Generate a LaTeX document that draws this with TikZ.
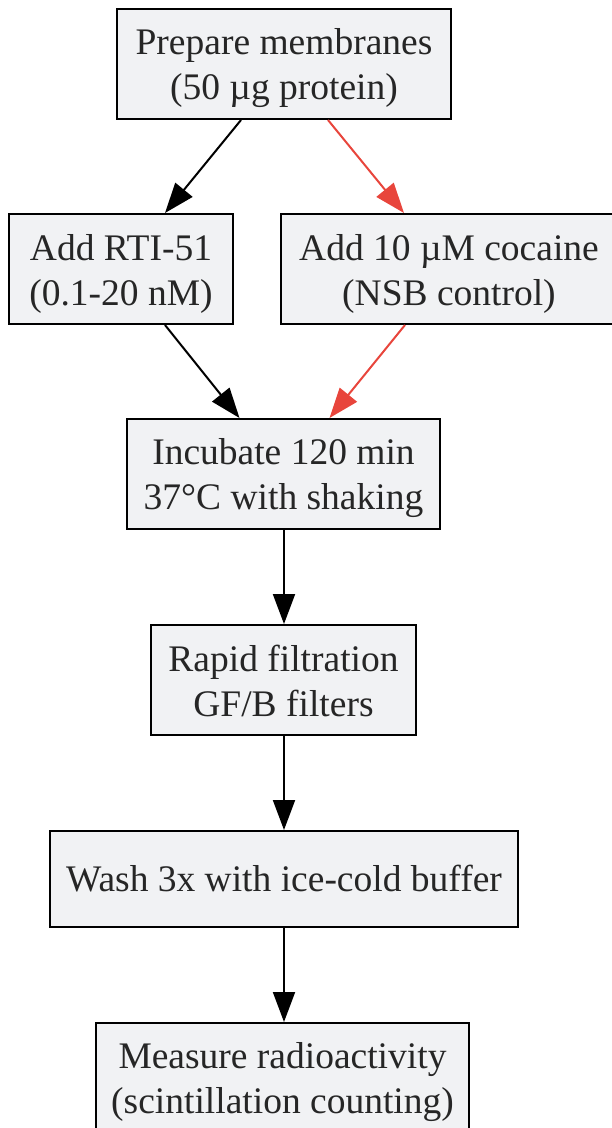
\documentclass[tikz,border=0pt]{standalone}
\usepackage{fontspec}
\setmainfont{Liberation Serif}
\usetikzlibrary{arrows.meta,calc}
\definecolor{boxfill}{HTML}{F1F2F4}
\definecolor{txt}{HTML}{262626}
\definecolor{redarrow}{HTML}{E8453C}
\newcommand\twolines[2]{\rule{0pt}{35pt}#1\\#2\rule[-8pt]{0pt}{8pt}}
\tikzset{
  stepbox/.style={draw=black, line width=2pt, fill=boxfill, text=txt, inner sep=0pt, align=center,
    font=\fontsize{37.5pt}{45pt}\selectfont},
  flow/.style={line width=2pt, -{Triangle[length=30pt,width=22pt]}},
  redflow/.style={flow, draw=redarrow, color=redarrow},
}
\begin{document}
\begin{tikzpicture}[x=1pt,y=-1pt]
\useasboundingbox (0,0) rectangle (612,1128);
\node[stepbox, minimum width=334pt, minimum height=110pt] (n1) at (284,64) {\twolines{Prepare membranes}{(50 µg protein)}};
\node[stepbox, minimum width=224pt, minimum height=110pt] (n2) at (121,269) {\twolines{Add RTI-51}{(0.1-20 nM)}};
\node[stepbox, minimum width=336pt, minimum height=110pt] (n3) at (449,269) {\twolines{Add 10 µM cocaine}{(NSB control)}};
\node[stepbox, minimum width=313pt, minimum height=110pt] (n4) at (283.5,474) {\twolines{Incubate 120 min}{37°C with shaking}};
\node[stepbox, minimum width=265pt, minimum height=110pt] (n5) at (283.5,680) {\twolines{Rapid filtration}{GF/B filters}};
\node[stepbox, minimum width=468pt, minimum height=96pt] (n6) at (284,879) {Wash 3x with ice-cold buffer};
\node[stepbox, minimum width=373pt, minimum height=110pt] (n7) at (282.5,1078) {\twolines{Measure radioactivity}{(scintillation counting)}};
\draw[flow] ([xshift=-43pt]n1.south) -- ([xshift=44pt]n2.north);
\draw[redflow] ([xshift=44pt]n1.south) -- ([xshift=-45pt]n3.north);
\draw[flow] ([xshift=44pt]n2.south) -- ([xshift=-44pt]n4.north);
\draw[redflow] ([xshift=-44pt]n3.south) -- ([xshift=46pt]n4.north);
\draw[flow] ([xshift=0.5pt]n4.south) -- ([xshift=0.5pt]n5.north);
\draw[flow] ([xshift=0.5pt]n5.south) -- (n5.south -| n6.north) -- (n6.north);
\draw[flow] (n6.south) -- (n6.south |- n7.north);
\end{tikzpicture}
\end{document}
